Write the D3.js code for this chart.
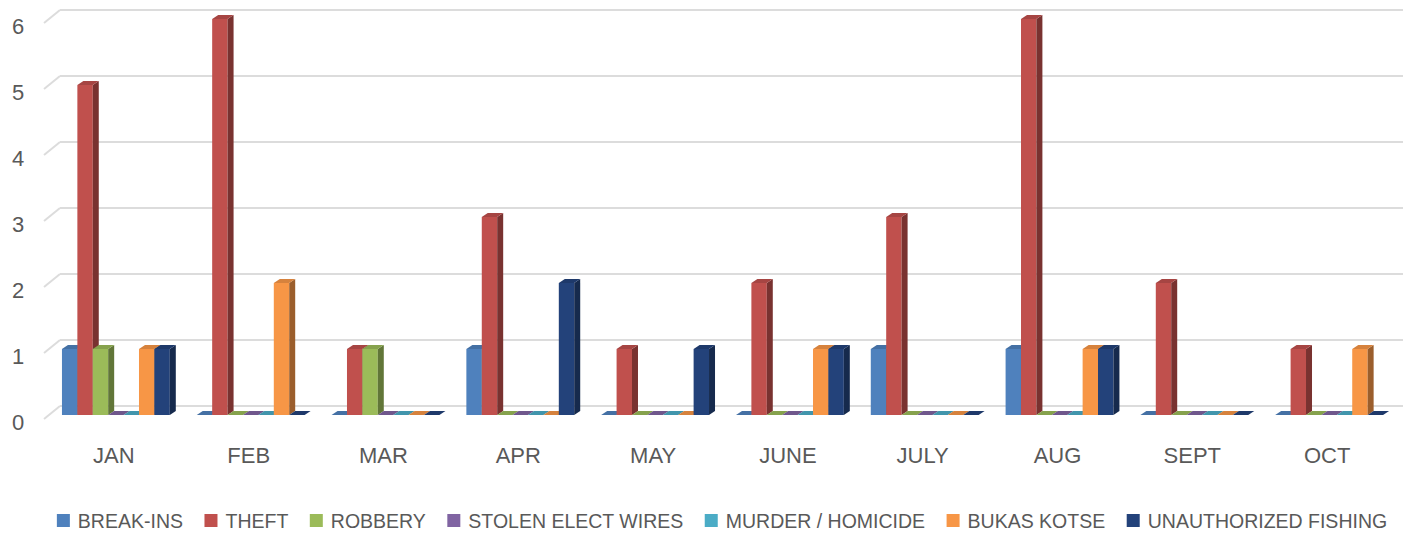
<!DOCTYPE html>
<html>
<head>
<meta charset="utf-8">
<title>Incidents per month</title>
<script src="https://d3js.org/d3.v7.min.js"></script>
<style>
  body { margin: 0; background: #fff; }
  .lbl { fill: #595959; font-family: "Liberation Sans", Arial, sans-serif; }
  .mon { fill: #595959; font-family: "Liberation Sans Narrow", "Liberation Sans", Arial, sans-serif; }
</style>
</head>
<body>
<div id="chart"></div>
<script>
var months = ["JAN", "FEB", "MAR", "APR", "MAY", "JUNE", "JULY", "AUG", "SEPT", "OCT"];
var seriesNames = ["BREAK-INS", "THEFT", "ROBBERY", "STOLEN ELECT WIRES", "MURDER / HOMICIDE", "BUKAS KOTSE", "UNAUTHORIZED FISHING"];
var colors = ["#4F81BD", "#C0504D", "#9BBB59", "#8064A2", "#4BACC6", "#F79646", "#23427A"];

var breakIns   = [1, 0, 0, 1, 0, 0, 1, 1, 0, 0];
var theft      = [5, 6, 1, 3, 1, 2, 3, 6, 2, 1];
var robbery    = [1, 0, 1, 0, 0, 0, 0, 0, 0, 0];
var stolenWire = [0, 0, 0, 0, 0, 0, 0, 0, 0, 0];
var murder     = [0, 0, 0, 0, 0, 0, 0, 0, 0, 0];
var bukasKotse = [1, 2, 0, 0, 0, 1, 0, 1, 0, 1];
var fishing    = [1, 0, 0, 2, 1, 1, 0, 1, 0, 0];
var yTicks = [0, 1, 2, 3, 4, 5, 6];

var values = [breakIns, theft, robbery, stolenWire, murder, bukasKotse, fishing];

var width = 1406, height = 533;
var depthX = 6, depthY = 4;

var svg = d3.select("#chart").append("svg")
    .attr("width", width).attr("height", height);

var x = d3.scaleBand().domain(months).range([35, 1410]).paddingInner(0.2).paddingOuter(0.2);
var xs = d3.scaleBand().domain(d3.range(seriesNames.length)).range([0, x.bandwidth()]);
var y = d3.scaleLinear().domain([0, 6]).range([415, 19]);

// gridlines (back wall) with the little floor stub on the left
var grid = svg.append("g");
yTicks.forEach(function(t) {
  grid.append("line")
    .attr("x1", 60).attr("x2", 1403)
    .attr("y1", y(t) - 9).attr("y2", y(t) - 9)
    .attr("stroke", "#dcdcdc").attr("stroke-width", 2);
  grid.append("line")
    .attr("x1", 44).attr("y1", y(t) + 4)
    .attr("x2", 60).attr("y2", y(t) - 9)
    .attr("stroke", "#dcdcdc").attr("stroke-width", 2);
  svg.append("text").attr("class", "lbl")
    .attr("x", 18).attr("y", y(t) + 14.5)
    .attr("text-anchor", "middle").attr("font-size", 22)
    .text(t);
});

// 3d-ish bars
var bars = svg.append("g");
months.forEach(function(m, i) {
  seriesNames.forEach(function(s, j) {
    var v = values[j][i];
    var x0 = x(m) + xs(j), w = xs.bandwidth();
    var yt = y(v), yb = y(0);
    var c = d3.color(colors[j]);
    var g = bars.append("g");
    if (v > 0) {
      g.append("rect")
        .attr("x", x0).attr("y", yt)
        .attr("width", w).attr("height", yb - yt)
        .attr("fill", c);
      g.append("path")
        .attr("d", "M" + (x0 + w) + "," + yt + "L" + (x0 + w + depthX) + "," + (yt - depthY) +
                   "L" + (x0 + w + depthX) + "," + (yb - depthY) + "L" + (x0 + w) + "," + yb + "Z")
        .attr("fill", c.darker(1.3));
    }
    g.append("path")
      .attr("d", "M" + x0 + "," + yt + "L" + (x0 + depthX) + "," + (yt - depthY) +
                 "L" + (x0 + w + depthX) + "," + (yt - depthY) + "L" + (x0 + w) + "," + yt + "Z")
      .attr("fill", c.darker(0.4));
  });
  svg.append("text").attr("class", "mon")
    .attr("x", x(m) + x.bandwidth() / 2 - 2).attr("y", 463)
    .attr("text-anchor", "middle").attr("font-size", 22)
    .text(m);
});

// legend
var legend = svg.append("g");
var lx = 0, gap = 21.5;
seriesNames.forEach(function(s, j) {
  var item = legend.append("g").attr("transform", "translate(" + lx + ",0)");
  item.append("rect").attr("x", 0).attr("y", 514).attr("width", 13).attr("height", 13).attr("fill", colors[j]);
  var t = item.append("text").attr("class", "lbl")
    .attr("x", 21).attr("y", 528).attr("font-size", 19.5).text(s);
  lx += 21 + t.node().getComputedTextLength() + gap;
});
var total = lx - gap;
legend.attr("transform", "translate(" + (722 - total / 2) + ",0)");
</script>
</body>
</html>
